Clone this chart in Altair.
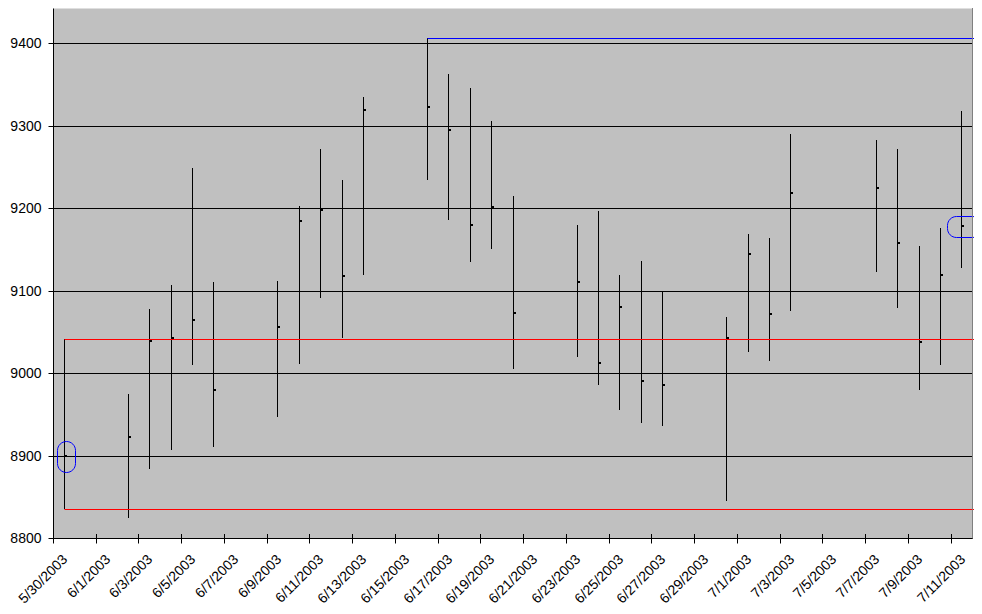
import altair as alt
import pandas as pd
from datetime import datetime, timedelta

# ---- data (high / low / close per trading day) ----
dates = ["2003-05-30", "2003-06-02", "2003-06-03", "2003-06-04", "2003-06-05",
         "2003-06-06", "2003-06-09", "2003-06-10", "2003-06-11", "2003-06-12",
         "2003-06-13", "2003-06-16", "2003-06-17", "2003-06-18", "2003-06-19",
         "2003-06-20", "2003-06-23", "2003-06-24", "2003-06-25", "2003-06-26",
         "2003-06-27", "2003-06-30", "2003-07-01", "2003-07-02", "2003-07-03",
         "2003-07-07", "2003-07-08", "2003-07-09", "2003-07-10", "2003-07-11"]
highs = [9041, 8974, 9077, 9107, 9249, 9110, 9111, 9202, 9271, 9234,
         9335, 9406, 9363, 9346, 9306, 9215, 9180, 9196, 9119, 9136,
         9099, 9068, 9169, 9164, 9290, 9282, 9271, 9154, 9176, 9317]
lows = [8835, 8824, 8884, 8907, 9010, 8910, 8947, 9011, 9091, 9043,
        9119, 9234, 9185, 9135, 9150, 9005, 9020, 8985, 8955, 8939,
        8936, 8845, 9026, 9014, 9075, 9123, 9079, 8979, 9010, 9127]
closes = [8899, 8923, 9039, 9043, 9064, 8980, 9056, 9184, 9197, 9117,
          9319, 9323, 9294, 9180, 9201, 9073, 9110, 9012, 9080, 8990,
          8986, 9042, 9144, 9071, 9218, 9224, 9157, 9037, 9119, 9178]

tick_dates = ["2003-05-30", "2003-06-01", "2003-06-03", "2003-06-05", "2003-06-07",
              "2003-06-09", "2003-06-11", "2003-06-13", "2003-06-15", "2003-06-17",
              "2003-06-19", "2003-06-21", "2003-06-23", "2003-06-25", "2003-06-27",
              "2003-06-29", "2003-07-01", "2003-07-03", "2003-07-05", "2003-07-07",
              "2003-07-09", "2003-07-11"]
y_ticks = [8800, 8900, 9000, 9100, 9200, 9300, 9400]
x_domain = ["2003-05-30", "2003-07-12"]
y_domain = [8800, 9442.43]

W, H = 919, 530
FONT = "Liberation Sans"


def ts(d, days=0.0):
    return (datetime.strptime(d, "%Y-%m-%d") + timedelta(days=days)).strftime("%Y-%m-%dT%H:%M:%S")


def dt(d):
    p = datetime.strptime(d, "%Y-%m-%d")
    return alt.DateTime(year=p.year, month=p.month, date=p.day)


bars = pd.DataFrame({"t": [ts(d, 0.5) for d in dates], "high": highs, "low": lows, "close": closes})

x_scale = alt.Scale(domain=[dt(x_domain[0]), dt(x_domain[1])], round=True)
y_scale = alt.Scale(domain=y_domain, nice=False, zero=False, round=True)

x_axis = alt.Axis(values=[dt(d) for d in tick_dates], format="%-m/%-d/%Y", title=None,
                  labelAngle=315, labelAlign="right", labelBaseline="top",
                  labelFont=FONT, labelFontSize=14, labelColor="black",
                  labelPadding=9, labelOffset=7, labelFlush=False, labelOverlap=False,
                  labelBound=False,
                  tickSize=5, tickColor="black", tickWidth=1,
                  domainColor="black", domainWidth=1, grid=False)
y_axis = alt.Axis(values=y_ticks, format="d", title=None,
                  labelFont=FONT, labelFontSize=14, labelColor="black", labelPadding=7,
                  tickSize=5, tickColor="black", tickWidth=1,
                  domainColor="black", domainWidth=1,
                  grid=True, gridColor="black", gridWidth=1, gridOpacity=1)

base = alt.Chart(bars)

hl = base.mark_rule(color="black", strokeWidth=1, xOffset=0.5).encode(
    x=alt.X("t:T", scale=x_scale, axis=x_axis),
    y=alt.Y("low:Q", scale=y_scale, axis=y_axis),
    y2="high:Q",
)
close_marks = base.mark_rect(color="black", width=2, height=2, xOffset=2).encode(
    x="t:T", y="close:Q")

# ---- annotation lines derived from the data ----
end_t = ts(x_domain[1], 1.5)
imax = highs.index(max(highs))
lines = pd.DataFrame({
    "t": [ts(dates[0], 0.5), ts(dates[0], 0.5), ts(dates[imax], 0.5)],
    "t2": [end_t, end_t, end_t],
    "v": [highs[0], lows[0], highs[imax]],
    "c": ["#FF0000", "#FF0000", "#0000FF"],
})
ann_lines = alt.Chart(lines).mark_rule(strokeWidth=1, yOffset=0.5, xOffset=0.5).encode(
    x="t:T", x2="t2:T", y="v:Q", color=alt.Color("c:N", scale=None))

rings = pd.DataFrame({
    "t": [ts(dates[0], 0.5 + 0.1 - 0.43), ts(dates[-1], 0.5 + 0.13 - 0.8)],
    "t2": [ts(dates[0], 0.5 + 0.1 + 0.43), ts(dates[-1], 0.5 + 0.13 + 0.8)],
    "v": [closes[0] - 18.4, closes[-1] - 12.7],
    "v2": [closes[0] + 18.4, closes[-1] + 12.7],
})
ann_rings = alt.Chart(rings).mark_rect(fillOpacity=0, stroke="#0000FF", strokeWidth=1,
                                       cornerRadius=9, xOffset=0.5, x2Offset=0.5,
                                       yOffset=0.5, y2Offset=0.5).encode(
    x="t:T", x2="t2:T", y="v:Q", y2="v2:Q")

inner_ticks = alt.Chart(pd.DataFrame({"t": [ts(d) for d in tick_dates]})).mark_rule(
    color="black", strokeWidth=1, xOffset=0.5).encode(
    x="t:T", y=alt.value(H - 4), y2=alt.value(H))

right_border = alt.Chart(pd.DataFrame({"a": [0]})).mark_rule(
    color="#808080", strokeWidth=1, xOffset=0.5).encode(
    x=alt.value(W), y=alt.value(0), y2=alt.value(H))

chart = alt.layer(hl, close_marks, inner_ticks, ann_lines, ann_rings, right_border).properties(
    width=W, height=H,
    padding={"left": 45, "top": 0, "right": 2, "bottom": 67},
    autosize=alt.AutoSizeParams(type="none"),
    background="white",
).configure_view(fill="#C0C0C0", stroke="transparent")

chart.save("out.html", embed_options={"renderer": "svg", "actions": False})
